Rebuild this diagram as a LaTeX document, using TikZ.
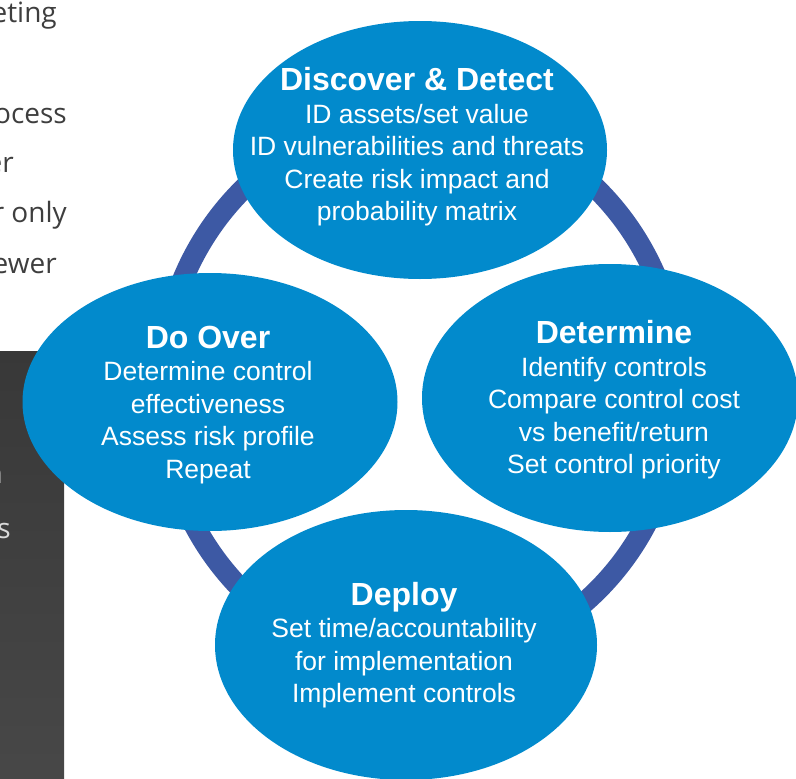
\documentclass[tikz,border=0pt]{standalone}
\usepackage{fontspec}
\setmainfont{Liberation Sans}
\newfontfamily\notefont{Open Sans}
\usepackage{tikz}
\usetikzlibrary{shapes.geometric}
\definecolor{stageblue}{RGB}{2,138,204}
\definecolor{ringblue}{RGB}{61,89,164}
\definecolor{notegray}{RGB}{62,62,62}
\newcommand{\stagetitle}[1]{{\fontsize{32}{33}\selectfont\bfseries #1}}
\tikzset{
stage/.style={ellipse, fill=stageblue, inner sep=0pt}, % the four blue ovals
stagetext/.style={text=white, align=center, inner sep=0pt,
  font=\fontsize{26.5}{32.5}\selectfont}, % white lines inside an oval
ring/.style={draw=ringblue, line width=21pt}, % loop joining the ovals
note/.style={text=notegray, inner sep=0pt, font=\notefont\fontsize{28}{34}\selectfont}, % slide text behind
panelnote/.style={note, text=white!85!black}, % text on the dark panel
}

\begin{document}
\begin{tikzpicture}[x=1pt, y=-1pt]
        \useasboundingbox (0,0) rectangle (796,779);
        \clip (0,0) rectangle (796,779);

        % slide behind the cycle
        \shade[top color=black!78, bottom color=black!72] (0,351) rectangle (64,779);
        \node[note, anchor=base east] (n1) at (57,22) {eting};
        \node[note, anchor=base east] (n2) at (67,123) {ocess};
        \node[note, anchor=base east] (n3) at (14,172) {er};
        \node[note, anchor=base east] (n4) at (67,222) {r only};
        \node[note, anchor=base east] (n5) at (57,273) {ewer};
        \node[panelnote, anchor=base east] (n6) at (3,483) {n};
        \node[panelnote, anchor=base east] (n7) at (11,538) {s};

        \coordinate (hub) at (420,390);
        \draw[ring] (hub) ellipse [x radius=259pt, y radius=275pt];

        \node[stage, minimum width=374pt, minimum height=258pt] (discover) at (420,150) {};
        \node[stage, minimum width=376pt, minimum height=268pt] (determine) at (610,398) {};
        \node[stage, minimum width=382pt, minimum height=270pt] (deploy) at (406,645) {};
        \node[stage, minimum width=375pt, minimum height=258pt] (doover) at (210,402) {};

        \node[stagetext] (discover-text) at (417,147) {\stagetitle{Discover \& Detect}\\
          ID assets/set value\\ ID vulnerabilities and threats\\
          Create risk impact and\\ probability matrix};
        \node[stagetext] (determine-text) at (614,400) {\stagetitle{Determine}\\
          Identify controls\\ Compare control cost\\
          vs benefit/return\\ Set control priority};
        \node[stagetext] (deploy-text) at (404,645) {\stagetitle{Deploy}\\
          Set time/accountability\\ for implementation\\ Implement controls};
        \node[stagetext] (doover-text) at (208,405) {\stagetitle{Do Over}\\
          Determine control\\ effectiveness\\ Assess risk profile\\ Repeat};
      \end{tikzpicture}
\end{document}
